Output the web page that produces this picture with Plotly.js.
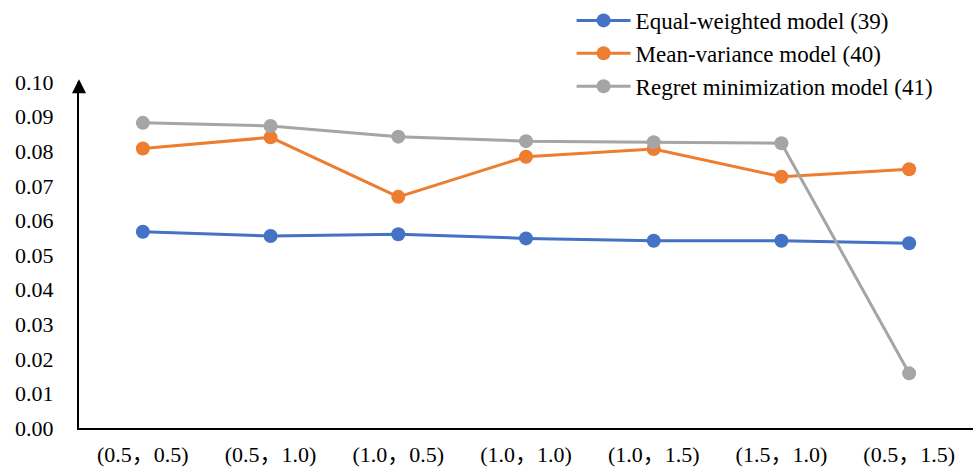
<!DOCTYPE html>
<html>
<head>
<meta charset="utf-8">
<script src="https://cdn.plot.ly/plotly-3.0.1.min.js"></script>
<style>
  html, body { margin: 0; padding: 0; background: #ffffff; }
  #chart { width: 978px; height: 472px; }
</style>
</head>
<body>
<div id="chart"></div>
<script>
// Parameter pairs on the horizontal axis
const categories = ['(0.5，0.5)', '(0.5，1.0)', '(1.0，0.5)', '(1.0，1.0)', '(1.0，1.5)', '(1.5，1.0)', '(0.5，1.5)'];

// Series values
const equalWeighted = [0.0567, 0.0555, 0.0560, 0.0548, 0.0541, 0.0541, 0.0534];
const meanVariance  = [0.0808, 0.0840, 0.0668, 0.0784, 0.0806, 0.0726, 0.0748];
const regretMin     = [0.0882, 0.0873, 0.0842, 0.0829, 0.0826, 0.0823, 0.0158];

const seriesNames = ['Equal-weighted model (39)', 'Mean-variance model (40)', 'Regret minimization model (41)'];
const yTicks = [0, 0.01, 0.02, 0.03, 0.04, 0.05, 0.06, 0.07, 0.08, 0.09, 0.10];

const FONT = '"Liberation Serif", "Times New Roman", "Noto Sans CJK SC", serif';

function series(name, values, color) {
  return {
    type: 'scatter',
    mode: 'lines+markers',
    name: name,
    x: categories,
    y: values,
    line: { color: color, width: 3 },
    marker: { color: color, size: 14 },
    cliponaxis: false
  };
}

const data = [
  series(seriesNames[0], equalWeighted, '#4472C4'),
  series(seriesNames[1], meanVariance, '#ED7D31'),
  series(seriesNames[2], regretMin, '#A5A5A5')
];

const layout = {
  width: 978,
  height: 472,
  paper_bgcolor: '#ffffff',
  plot_bgcolor: '#ffffff',
  margin: { l: 79, r: 5, t: 82, b: 44, autoexpand: false },
  font: { family: FONT, size: 22, color: '#000000' },
  showlegend: true,
  legend: {
    x: 0.551, xanchor: 'left',
    y: 1.24, yanchor: 'top',
    orientation: 'v',
    font: { family: FONT, size: 23, color: '#000000' },
    itemwidth: 54,
    tracegroupgap: 0,
    bgcolor: 'rgba(0,0,0,0)'
  },
  xaxis: {
    type: 'category',
    range: [-0.5, 6.5],
    showgrid: false,
    zeroline: false,
    showline: true,
    linecolor: '#000000',
    linewidth: 2,
    ticks: '',
    ticklabelstandoff: 6,
    tickfont: { family: FONT, size: 22, color: '#000000' },
    fixedrange: true
  },
  yaxis: {
    range: [0, 0.10],
    tickvals: yTicks,
    tickformat: '.2f',
    showgrid: false,
    zeroline: false,
    showline: true,
    linecolor: '#000000',
    linewidth: 2,
    ticks: '',
    ticklabelstandoff: 19,
    tickfont: { family: FONT, size: 22, color: '#000000' },
    fixedrange: true
  },
  annotations: [{
    // arrow head capping the vertical axis
    xref: 'paper', yref: 'paper',
    x: 0, y: 1.008,
    axref: 'pixel', ayref: 'pixel',
    ax: 0, ay: 14,
    text: '',
    showarrow: true,
    arrowhead: 2,
    arrowsize: 1.4,
    arrowwidth: 2,
    arrowcolor: '#000000'
  }]
};

Plotly.newPlot('chart', data, layout, { displayModeBar: false, staticPlot: true });
</script>
</body>
</html>
